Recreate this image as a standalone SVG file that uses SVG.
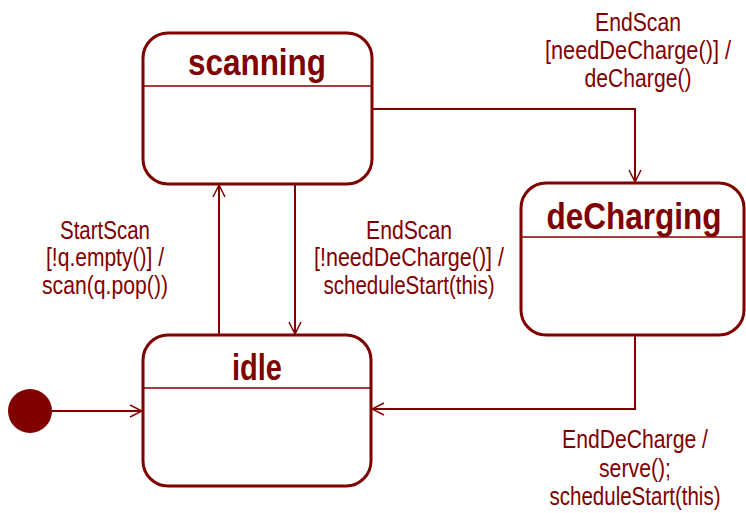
<svg xmlns="http://www.w3.org/2000/svg" width="746" height="513" viewBox="0 0 746 513">
<style>
.box{fill:#fff;stroke:#800000;stroke-width:3}
.div{stroke:#800000;stroke-width:1.5}
.title{font-family:"Liberation Sans Narrow","Liberation Sans",Arial,sans-serif;font-weight:bold;font-size:37px;fill:#800000;text-anchor:middle}
.lbl{font-family:"Liberation Sans Narrow","Liberation Sans",Arial,sans-serif;font-size:26px;fill:#800000;text-anchor:middle}
.edge{fill:none;stroke:#800000;stroke-width:2}
</style>
<defs>
<marker id="arr" viewBox="0 0 14 14" refX="13" refY="7" markerWidth="14" markerHeight="14" orient="auto" markerUnits="userSpaceOnUse">
<path d="M1,1 L13,7 L1,13" fill="none" stroke="#800000" stroke-width="1.5"/>
</marker>
</defs>
<rect width="746" height="513" fill="#fff"/>
<g id="connectors">
<line class="edge" x1="52" y1="411" x2="142" y2="411" marker-end="url(#arr)"/>
<line class="edge" x1="219" y1="335" x2="219" y2="185" marker-end="url(#arr)"/>
<line class="edge" x1="295" y1="184" x2="295" y2="334" marker-end="url(#arr)"/>
<path class="edge" d="M372,109 H635 V182" marker-end="url(#arr)"/>
<path class="edge" d="M635,336 V409 H372" marker-end="url(#arr)"/>
<text class="lbl" x="105" y="239" textLength="90" lengthAdjust="spacingAndGlyphs">StartScan</text>
<text class="lbl" x="105" y="266" textLength="118" lengthAdjust="spacingAndGlyphs">[!q.empty()] /</text>
<text class="lbl" x="105" y="294" textLength="126" lengthAdjust="spacingAndGlyphs">scan(q.pop())</text>
<text class="lbl" x="409" y="239" textLength="86" lengthAdjust="spacingAndGlyphs">EndScan</text>
<text class="lbl" x="409" y="266" textLength="190" lengthAdjust="spacingAndGlyphs">[!needDeCharge()] /</text>
<text class="lbl" x="409" y="294" textLength="171" lengthAdjust="spacingAndGlyphs">scheduleStart(this)</text>
<text class="lbl" x="638" y="31" textLength="86" lengthAdjust="spacingAndGlyphs">EndScan</text>
<text class="lbl" x="638" y="59" textLength="186" lengthAdjust="spacingAndGlyphs">[needDeCharge()] /</text>
<text class="lbl" x="638" y="87" textLength="107" lengthAdjust="spacingAndGlyphs">deCharge()</text>
<text class="lbl" x="635" y="448" textLength="146" lengthAdjust="spacingAndGlyphs">EndDeCharge /</text>
<text class="lbl" x="635" y="477" textLength="72" lengthAdjust="spacingAndGlyphs">serve();</text>
<text class="lbl" x="635" y="505" textLength="171" lengthAdjust="spacingAndGlyphs">scheduleStart(this)</text>
</g>
<g id="initial">
<circle cx="30" cy="411" r="22" fill="#800000"/>
</g>
<g id="scanning">
<rect class="box" x="143" y="33" width="229" height="151" rx="25" ry="25"/>
<line class="div" x1="143" y1="86" x2="372" y2="86"/>
<text class="title" x="257" y="75" textLength="138" lengthAdjust="spacingAndGlyphs">scanning</text>
</g>
<g id="deCharging">
<rect class="box" x="521" y="183" width="223" height="152" rx="25" ry="25"/>
<line class="div" x1="521" y1="237" x2="744" y2="237"/>
<text class="title" x="634" y="229" textLength="175" lengthAdjust="spacingAndGlyphs">deCharging</text>
</g>
<g id="idle">
<rect class="box" x="143" y="335" width="228" height="151" rx="25" ry="25"/>
<line class="div" x1="143" y1="388" x2="371" y2="388"/>
<text class="title" x="257" y="380" textLength="50" lengthAdjust="spacingAndGlyphs">idle</text>
</g>
</svg>
